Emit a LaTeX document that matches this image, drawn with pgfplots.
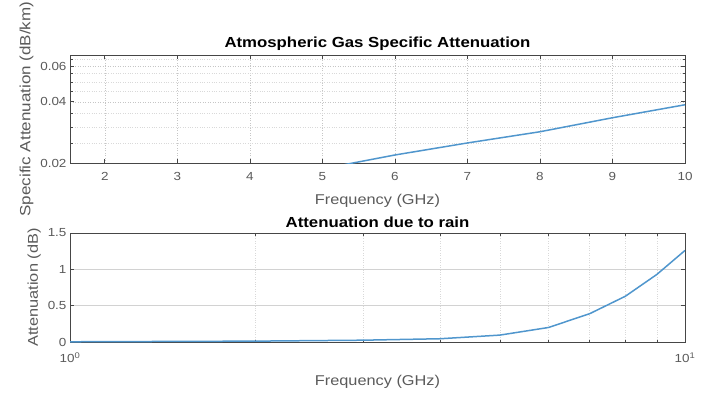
\documentclass[border=0pt]{standalone}
\usepackage{fontspec}
\setmainfont{Liberation Sans}[FakeStretch=1.15]
\usepackage{pgfplots}
\pgfplotsset{compat=1.18}
\definecolor{mblue}{RGB}{80,150,205}
\definecolor{axgray}{RGB}{70,70,70}
\definecolor{txtgray}{RGB}{90,90,90}
\pgfplotsset{
  common/.style={
    scale only axis, anchor=south west,
    /pgf/number format/assume math mode=true,
    axis line style={axgray, line width=0.9pt},
    tick style={axgray, line width=0.7pt},
    major tick length=4pt, minor tick length=2.5pt,
    tick label style={font=\fontsize{11.7}{13}\selectfont, text=txtgray},
    label style={font=\fontsize{14.2}{16}\selectfont, text=txtgray},
    title style={font=\fontsize{14.6}{16}\selectfont\bfseries, text=black},
    major grid style={gray!35, line width=0.5pt},
    minor grid style={gray!30, dotted, line width=0.5pt},
    grid=both,
    xtick align=inside, ytick align=inside,
  }
}
\begin{document}
\begin{tikzpicture}
\path[use as bounding box] (0,0) rectangle (708pt,392pt);
\begin{axis}[common,
  at={(70pt,229pt)}, width=615pt, height=108pt,
  xmin=1.52, xmax=10, ymode=log, ymin=0.02, ymax=0.068,
  xtick={2,3,4,5,6,7,8,9,10},
  xticklabels={2,3,4,5,6,7,8,9,10},
  ytick={0.02,0.04,0.06}, yticklabels={0.02,0.04,0.06},
  minor ytick={0.025,0.03,0.035,0.045,0.05,0.055,0.065},
  major grid style={gray!45, dotted, line width=0.6pt},
  title={Atmospheric Gas Specific Attenuation},
  xlabel={Frequency (GHz)},
  ylabel={Specific Attenuation (dB/km)},
  title style={yshift=-5pt},
  xticklabel style={yshift=-6pt},
  xlabel style={yshift=-7pt},
  ylabel style={yshift=0pt, font=\fontsize{14.8}{16}\selectfont},
]
\addplot[mblue, line width=1.5pt] coordinates {
 (1.52,0.0085) (2,0.0092) (3,0.011) (4,0.014) (5,0.0187) (5.42,0.0200)
 (6,0.0219) (7,0.0251) (8,0.0285) (9,0.0334) (10,0.0387)
};
\end{axis}
\begin{axis}[common,
  at={(70pt,50pt)}, width=615pt, height=109pt,
  xmode=log, xmin=1, xmax=10, ymin=0, ymax=1.5,
  xtick={1,10}, xticklabels={10\textsuperscript{0},10\textsuperscript{1}},
  minor xtick={2,3,4,5,6,7,8,9},
  ytick={0,0.5,1,1.5}, yticklabels={0,0.5,1,1.5},
  title={Attenuation due to rain},
  xlabel={Frequency (GHz)},
  ylabel={Attenuation (dB)},
  title style={yshift=-4pt},
  xticklabel style={yshift=-7pt},
  xlabel style={yshift=-6pt},
]
\addplot[mblue, line width=1.5pt] coordinates {
 (1,0.003) (2,0.012) (3,0.025) (4,0.045) (5,0.095) (6,0.20)
 (7,0.39) (8,0.63) (9,0.93) (10,1.26)
};
\end{axis}
\end{tikzpicture}
\end{document}
